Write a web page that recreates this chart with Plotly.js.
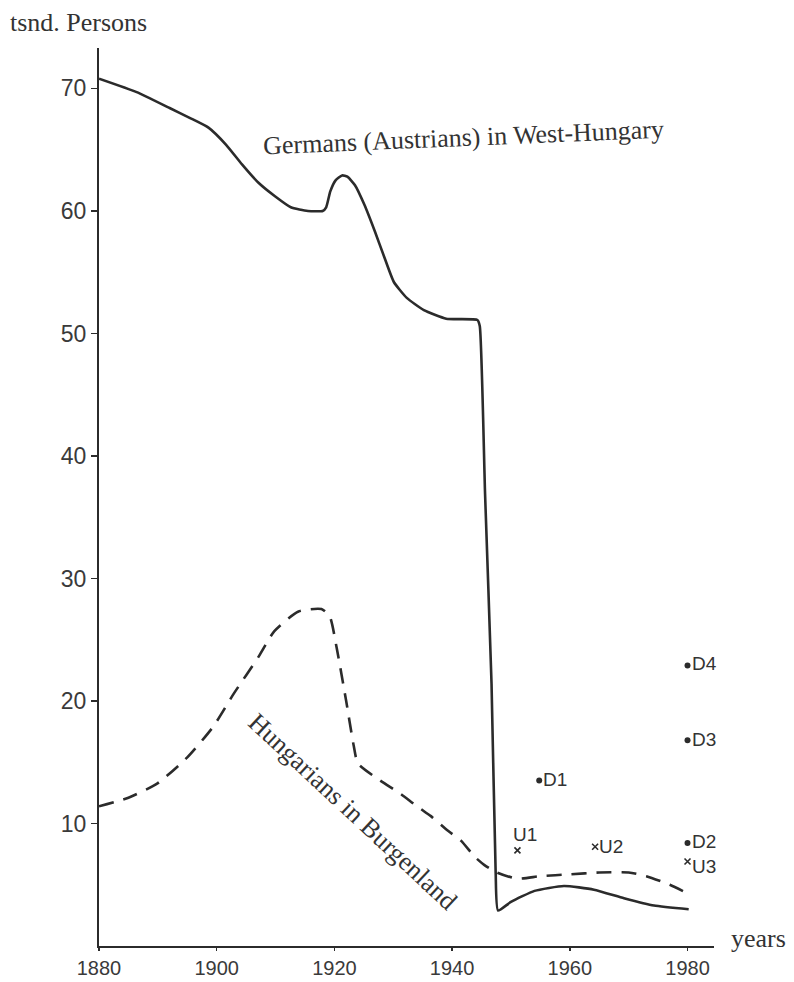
<!DOCTYPE html>
<html>
<head>
<meta charset="utf-8">
<script src="https://cdn.plot.ly/plotly-3.0.1.min.js"></script>
<style>html,body{margin:0;padding:0;background:#fff;}#chart{width:794px;height:982px;}</style>
</head>
<body>
<div id="chart"></div>
<script>
// Germans (Austrians) in West-Hungary (thousand persons)
const germanYears = [1880, 1886.4, 1892, 1895.4, 1898.6, 1901.6, 1904.3, 1907.1, 1909.9, 1912.6, 1915.5, 1918.0, 1918.6, 1919.3, 1920.2, 1921.3, 1922.2, 1923.5, 1925.1, 1926.9, 1928.5, 1930.1, 1932.3, 1935.2, 1939.0, 1944.3, 1944.7, 1945.6, 1946.7, 1947.4, 1947.8, 1950, 1954, 1959, 1964.1, 1969.2, 1974.3, 1980.2];
const germanValues = [70.8, 69.7, 68.4, 67.6, 66.8, 65.4, 63.8, 62.3, 61.2, 60.3, 60.0, 60.0, 60.3, 61.6, 62.5, 62.9, 62.8, 62.1, 60.5, 58.3, 56.2, 54.2, 52.9, 51.9, 51.2, 51.1, 50.6, 36.9, 21.4, 6.0, 2.9, 3.6, 4.5, 4.9, 4.6, 3.9, 3.3, 3.0];

// Hungarians in Burgenland (thousand persons)
const hungarianYears = [1880, 1885, 1890, 1895, 1899.4, 1902.9, 1907.1, 1909.8, 1913.9, 1917.8, 1919.2, 1920.4, 1922.0, 1923.3, 1924.0, 1927.8, 1931.3, 1933.5, 1935.5, 1936.4, 1939.3, 1941.5, 1943.8, 1945.5, 1947.6, 1951, 1955, 1960, 1965, 1970, 1973, 1977, 1980];
const hungarianValues = [11.4, 12.1, 13.3, 15.4, 17.9, 20.6, 23.6, 25.7, 27.3, 27.5, 26.9, 24.3, 20.0, 16.3, 14.9, 13.5, 12.4, 11.6, 10.9, 10.6, 9.4, 8.6, 7.3, 6.6, 6.0, 5.5, 5.7, 5.85, 6.0, 6.0, 5.7, 5.0, 4.3];

// Single estimates
const dLabels = ["D1", "D2", "D3", "D4"];
const dYears = [1954.8, 1980, 1980, 1980];
const dValues = [13.5, 8.4, 16.8, 22.9];
const uLabels = ["U1", "U2", "U3"];
const uYears = [1951.1, 1964.3, 1980];
const uValues = [7.8, 8.1, 6.9];

const xTicks = [1880, 1900, 1920, 1940, 1960, 1980];
const yTicks = [10, 20, 30, 40, 50, 60, 70];

const ink = '#2b2b2b';
const serif = 'Liberation Serif, Times New Roman, serif';
const sans = 'Liberation Sans, Arial, sans-serif';

const traces = [
  {
    x: germanYears, y: germanValues, type: 'scatter', mode: 'lines',
    line: {color: ink, width: 2.6, shape: 'spline', smoothing: 0.5},
    hoverinfo: 'skip'
  },
  {
    x: hungarianYears, y: hungarianValues, type: 'scatter', mode: 'lines',
    line: {color: ink, width: 2.6, dash: '15px,10px', shape: 'spline', smoothing: 0.6},
    hoverinfo: 'skip'
  },
  {
    x: dYears, y: dValues, type: 'scatter', mode: 'markers',
    marker: {symbol: 'circle', size: 6, color: ink}, cliponaxis: false
  },
  {
    x: uYears, y: uValues, type: 'scatter', mode: 'markers',
    marker: {symbol: 'x-thin', size: 6, color: ink, line: {width: 1.6, color: ink}}, cliponaxis: false
  }
];

// label offsets (pixels) for the point labels
const dShift = [[0, 1], [0, 2], [0, 1], [0, 2]];
const uShift = [[-8, 16], [0, 0], [0, -5]];
const pointFont = {family: sans, size: 19, color: '#333'};

const pointAnnotations = [];
dLabels.forEach((t, i) => pointAnnotations.push({
  text: t, xref: 'x', yref: 'y', x: dYears[i], y: dValues[i], showarrow: false,
  xanchor: 'left', yanchor: 'middle', xshift: 2 + dShift[i][0], yshift: dShift[i][1], font: pointFont
}));
uLabels.forEach((t, i) => pointAnnotations.push({
  text: t, xref: 'x', yref: 'y', x: uYears[i], y: uValues[i], showarrow: false,
  xanchor: 'left', yanchor: 'middle', xshift: 2 + uShift[i][0], yshift: uShift[i][1], font: pointFont
}));

const layout = {
  width: 794, height: 982,
  margin: {l: 99, r: 80, t: 48, b: 36},
  paper_bgcolor: '#ffffff', plot_bgcolor: '#ffffff',
  showlegend: false,
  xaxis: {
    range: [1880, 1984.5], tickvals: xTicks, ticktext: xTicks.map(String),
    ticks: 'outside', ticklen: 3, tickwidth: 1.5, tickcolor: ink,
    showline: true, linecolor: ink, linewidth: 2,
    showgrid: false, zeroline: false,
    tickfont: {family: sans, size: 20, color: '#3a3a3a'}
  },
  yaxis: {
    range: [0, 73.3], tickvals: yTicks, ticktext: yTicks.map(String),
    ticks: 'outside', ticklen: 6, tickwidth: 1.5, tickcolor: ink,
    showline: true, linecolor: ink, linewidth: 2,
    showgrid: false, zeroline: false,
    tickfont: {family: sans, size: 23, color: '#3a3a3a'}
  },
  annotations: [
    {text: 'tsnd. Persons', xref: 'paper', yref: 'paper', x: -0.148, y: 1.0287,
     xanchor: 'left', yanchor: 'middle', showarrow: false,
     font: {family: serif, size: 26, color: '#333'}},
    {text: 'years', xref: 'paper', yref: 'paper', x: 1.024, y: 0.008,
     xanchor: 'left', yanchor: 'middle', showarrow: false,
     font: {family: serif, size: 26, color: '#333'}},
    {text: 'Germans (Austrians) in West-Hungary', xref: 'x', yref: 'y', x: 1942, y: 66.0,
     xanchor: 'center', yanchor: 'middle', showarrow: false, textangle: -2.4,
     font: {family: serif, size: 26, color: '#333'}},
    {text: 'Hungarians in Burgenland', xref: 'x', yref: 'y', x: 1923.1, y: 11.0,
     xanchor: 'center', yanchor: 'middle', showarrow: false, textangle: 43,
     font: {family: serif, size: 26, color: '#333'}}
  ].concat(pointAnnotations)
};

Plotly.newPlot('chart', traces, layout, {staticPlot: true, displayModeBar: false});
</script>
</body>
</html>
